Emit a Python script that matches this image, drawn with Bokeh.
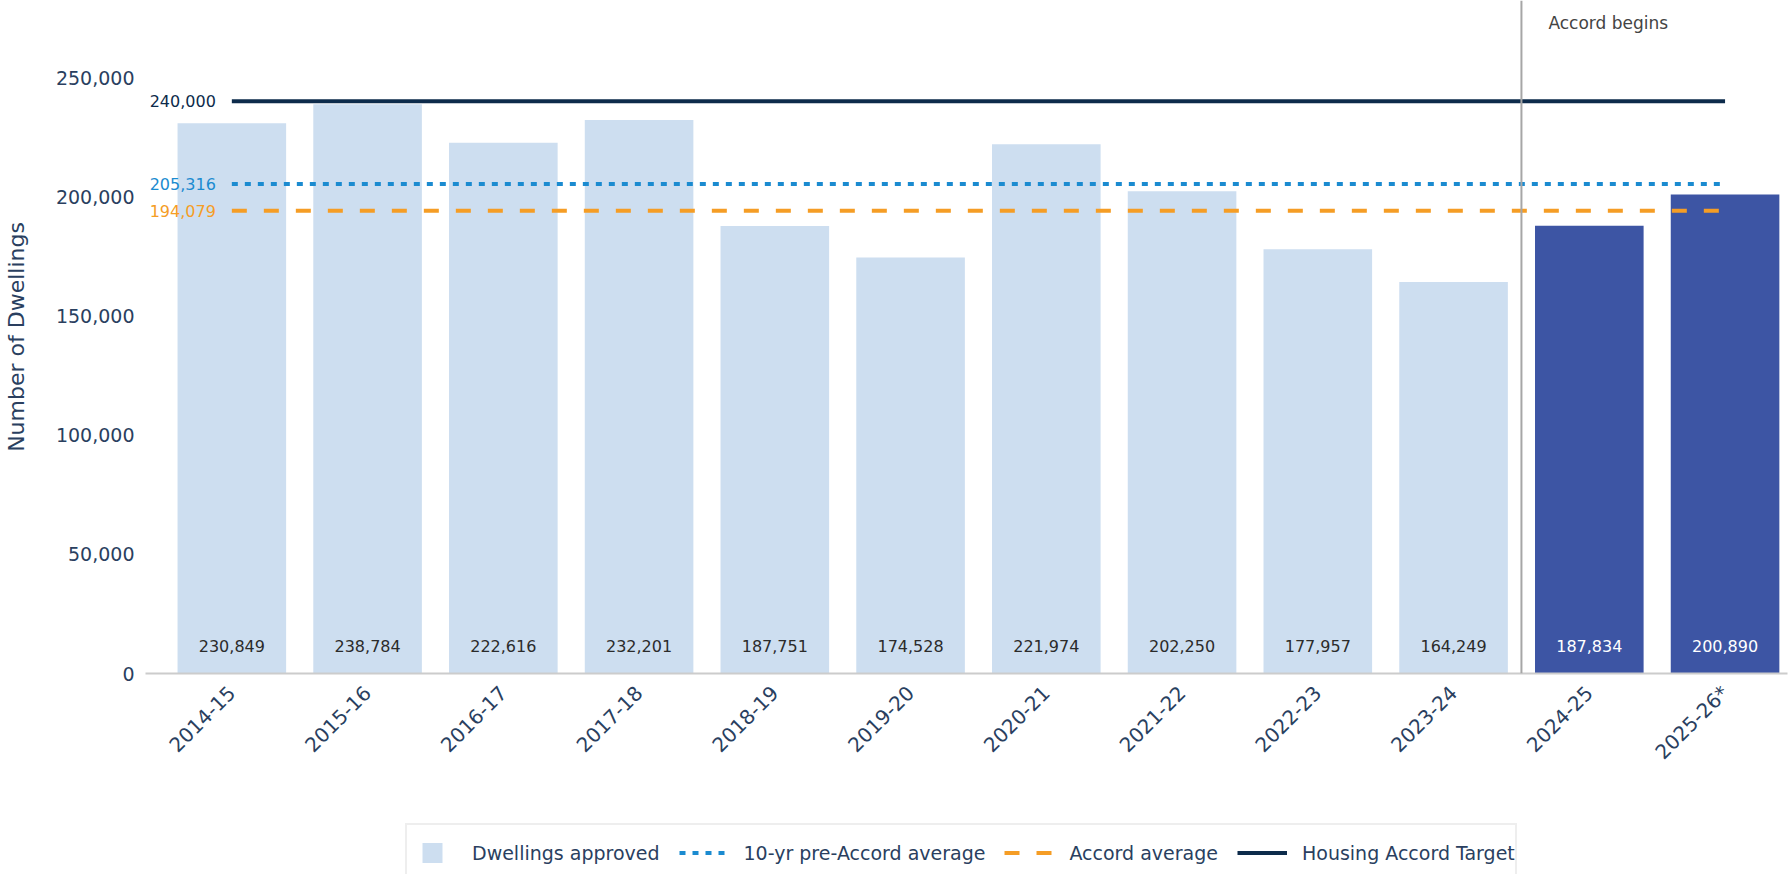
import math
from bokeh.plotting import figure
from bokeh.layouts import column
from bokeh.models import (ColumnDataSource, Range1d, FixedTicker, NumeralTickFormatter,
                          Span, Legend, LegendItem)
from bokeh.core.properties import value
from bokeh.embed import file_html
from bokeh.resources import INLINE

# ---- data ----
categories = ["2014-15", "2015-16", "2016-17", "2017-18", "2018-19", "2019-20",
              "2020-21", "2021-22", "2022-23", "2023-24", "2024-25", "2025-26*"]
dwellings = [230849, 238784, 222616, 232201, 187751, 174528,
             221974, 202250, 177957, 164249, 187834, 200890]
accord_first = "2024-25"
target_value = 240000
pre_accord_avg = 205316
accord_avg = 194079
y_ticks = [0, 50000, 100000, 150000, 200000, 250000]
annotation_text = "Accord begins"
legend_labels = ["Dwellings approved", "10-yr pre-Accord average", "Accord average", "Housing Accord Target"]
y_title = "Number of Dwellings"

# ---- styles ----
LIGHT = "#cddef0"
DARK = "#3d55a4"
NAVY = "#0d2b4b"
BLUE = "#1b8bd0"
ORANGE = "#f59d25"
GREY = "#a6a6a6"
AXIS_TXT = "#2a3f5f"
FONT = "DejaVu Sans"

idx = list(range(len(categories)))
start_i = categories.index(accord_first)
colors = [LIGHT if i < start_i else DARK for i in idx]
label_colors = ["#2b2b2b" if i < start_i else "#ffffff" for i in idx]
labels = [f"{v:,}" for v in dwellings]

src = ColumnDataSource(dict(x=idx, top=dwellings, color=colors, lab=labels,
                            lab_color=label_colors, zero=[0] * len(idx)))

W = 1788
p = figure(width=W, height=810, output_backend="svg", toolbar_location=None,
           x_range=Range1d(-0.636, 11.46), y_range=Range1d(0, 282299),
           min_border_left=142, min_border_right=1, min_border_top=0,
           min_border_bottom=137)
p.outline_line_color = None
p.grid.visible = False
p.background_fill_color = "white"

p.vbar(x="x", top="top", width=0.8, fill_color="color", line_color=None, source=src)

p.text(x="x", y="zero", text="lab", source=src, text_color="lab_color",
       text_align="center", text_baseline="middle", y_offset=-28,
       text_font=value(FONT), text_font_size="16px")

# horizontal reference lines
xs = [idx[0], idx[-1]]
p.line(x=xs, y=[target_value] * 2, line_color=NAVY, line_width=4)
p.line(x=xs, y=[pre_accord_avg] * 2, line_color=BLUE, line_width=4, line_dash="6 7")
p.line(x=xs, y=[accord_avg] * 2, line_color=ORANGE, line_width=4, line_dash="15 17")

line_src = ColumnDataSource(dict(
    x=[idx[0]] * 3, y=[target_value, pre_accord_avg, accord_avg],
    t=[f"{target_value:,}", f"{pre_accord_avg:,}", f"{accord_avg:,}"],
    c=[NAVY, BLUE, ORANGE]))
p.text(x="x", y="y", text="t", text_color="c", source=line_src, x_offset=-16,
       text_align="right", text_baseline="middle", text_font=value(FONT),
       text_font_size="16px")

# accord begins vertical line
p.add_layout(Span(location=start_i - 0.5, dimension="height", line_color=GREY, line_width=2))
p.text(x=[start_i - 0.5], y=[p.y_range.end], text=[annotation_text], x_offset=27, y_offset=22,
       text_align="left", text_baseline="middle", text_color="#444444",
       text_font=value(FONT), text_font_size="17px")

# axes
xa = p.xaxis[0]
xa.ticker = FixedTicker(ticks=idx)
xa.major_label_overrides = {i: c for i, c in zip(idx, categories)}
xa.major_label_orientation = math.pi / 4
xa.major_label_text_font = FONT
xa.major_label_text_font_size = "20px"
xa.major_label_text_color = AXIS_TXT
xa.major_tick_line_color = None
xa.minor_tick_line_color = None
xa.axis_line_color = "#cccccc"
xa.axis_line_width = 2
xa.major_label_standoff = 10

ya = p.yaxis[0]
ya.ticker = FixedTicker(ticks=y_ticks)
ya.formatter = NumeralTickFormatter(format="0,0")
ya.major_label_text_font = FONT
ya.major_label_text_font_size = "19px"
ya.major_label_text_color = AXIS_TXT
ya.major_tick_line_color = None
ya.minor_tick_line_color = None
ya.axis_line_color = None
ya.major_label_standoff = 5
ya.axis_label = y_title
ya.axis_label_text_font = FONT
ya.axis_label_text_font_size = "22px"
ya.axis_label_text_font_style = "normal"
ya.axis_label_text_color = AXIS_TXT
ya.axis_label_standoff = 24

# legend strip (separate figure so the legend is not clipped by the plot frame)
lg = figure(width=W, height=64, output_backend="svg", toolbar_location=None,
            x_range=Range1d(0, 1), y_range=Range1d(0, 1),
            x_axis_location=None, y_axis_location=None,
            min_border=0, min_border_left=0, min_border_right=0,
            min_border_top=0, min_border_bottom=0)
lg.outline_line_color = None
lg.grid.visible = False
nan = float("nan")
key_src = ColumnDataSource(dict(x=[nan], y=[nan]))
r_sq = lg.scatter(x="x", y="y", source=key_src, marker="square", fill_color=LIGHT, line_color=None)
r_pre = lg.line(x="x", y="y", source=key_src, line_color=BLUE, line_width=4, line_dash="6 7")
r_acc = lg.line(x="x", y="y", source=key_src, line_color=ORANGE, line_width=4, line_dash="15 17")
r_tgt = lg.line(x="x", y="y", source=key_src, line_color=NAVY, line_width=4)

legend = Legend(items=[
    LegendItem(label=legend_labels[0], renderers=[r_sq]),
    LegendItem(label=legend_labels[1], renderers=[r_pre]),
    LegendItem(label=legend_labels[2], renderers=[r_acc]),
    LegendItem(label=legend_labels[3], renderers=[r_tgt]),
], orientation="horizontal", location=(260, -8))
legend.glyph_width = 50
legend.glyph_height = 55
legend.padding = 0
legend.margin = 0
legend.spacing = 19
legend.label_standoff = 15
legend.label_text_font = FONT
legend.label_text_font_size = "19px"
legend.label_text_color = AXIS_TXT
legend.border_line_color = "#dddddd"
legend.border_line_width = 2
legend.background_fill_color = "white"
legend.background_fill_alpha = 1
lg.add_layout(legend)

layout = column(p, lg, spacing=0)
open("out.html", "w").write(file_html(layout, INLINE))
